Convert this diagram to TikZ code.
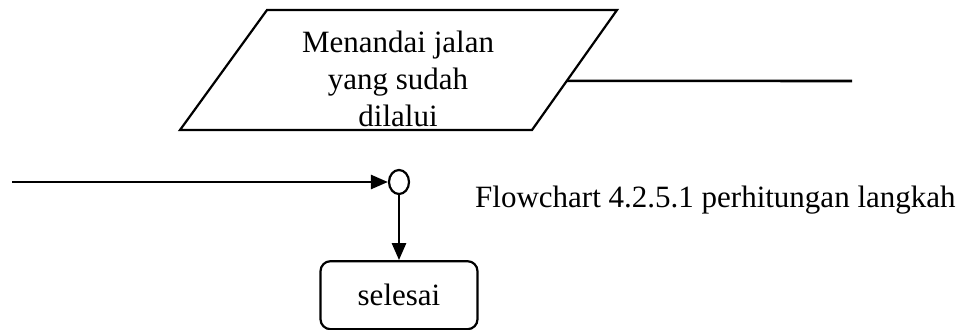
\documentclass[tikz,border=0pt]{standalone}
\usepackage{fontspec}
\setmainfont{Liberation Serif}
\usetikzlibrary{positioning,shapes.geometric,arrows.meta,calc}
\tikzset{
  teks/.style={font=\fontsize{31}{37}\selectfont, align=center},
  io/.style={draw, line width=2.2pt, line join=miter},
  terminal/.style={teks, draw, rounded corners=10pt, line width=2.2pt,
    minimum width=157pt, minimum height=68pt},
  konektor/.style={ellipse, draw, line width=2.2pt, inner sep=0pt,
    minimum width=20pt, minimum height=24pt},
  garis/.style={line width=2.6pt},
  alur/.style={garis, -{Triangle[length=17pt,width=14pt]}},
}

\begin{document}
\begin{tikzpicture}[x=1pt, y=-1pt]
  \useasboundingbox (0,0) rectangle (976,329);
  % input/output
  \coordinate (kiribawah) at (180,130);
  \coordinate (kananbawah) at (532,130);
  \coordinate (kananatas) at (617,10);
  \coordinate (kiriatas) at (267,10);
  \draw[io] (kiribawah) -- (kananbawah) -- (kananatas) -- (kiriatas) -- cycle;
  \node[teks] (tanda) at (398,79) {Menandai jalan\\yang sudah\\dilalui};
  \coordinate (lanjut) at (852,81);
  \draw[garis] ($(kananbawah)!0.41!(kananatas)$) -- (lanjut);
  % connector and end
  \coordinate (masuk) at (12,182);
  \node[konektor] (sambung) at (399,182) {};
  \draw[alur] (masuk) -- (sambung.west);
  \node[terminal, below=65pt of sambung] (selesai) {selesai};
  \draw[alur] (sambung.south) -- (selesai.north);
  % caption
  \node[teks, anchor=base west, inner sep=0pt] (judul) at (475,207)
    {Flowchart 4.2.5.1 perhitungan langkah};
\end{tikzpicture}
\end{document}
